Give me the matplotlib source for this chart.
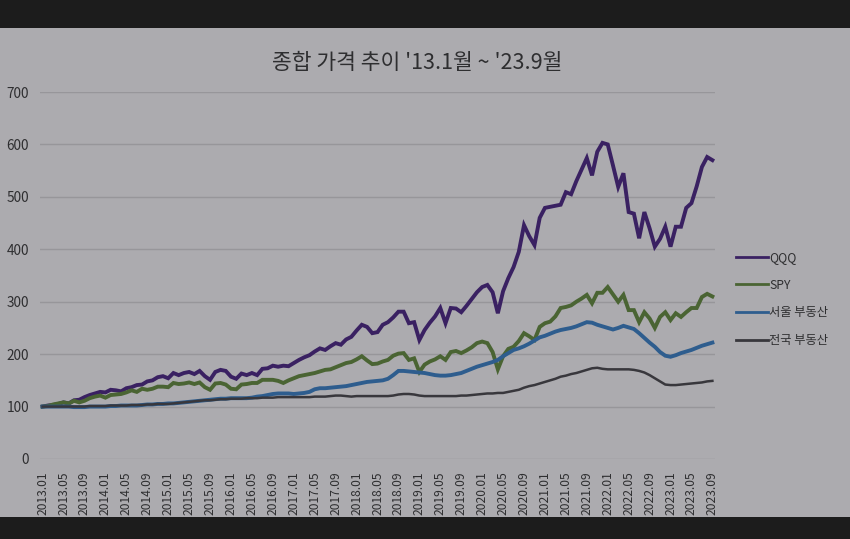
import matplotlib
matplotlib.use("Agg")
import matplotlib.pyplot as plt
from matplotlib.patches import Rectangle

plt.rcParams['font.family'] = ['Noto Sans CJK KR', 'DejaVu Sans']

# monthly index values, 2013.01 .. 2023.09
qqq = [100, 102, 103, 105, 108, 106, 112, 113, 118, 122, 125, 128,
       127, 132, 131, 129, 135, 137, 141, 142, 148, 150, 156, 158,
       154, 164, 160, 164, 166, 162, 168, 158, 151, 166, 170, 168,
       157, 153, 163, 160, 164, 160, 172, 173, 178, 176, 178, 177,
       183, 189, 194, 198, 205, 211, 208, 215, 221, 218, 228, 233,
       245, 256, 252, 240, 242, 256, 261, 270, 281, 281, 259, 261,
       227, 246, 260, 272, 288, 259, 288, 287, 280, 292, 305, 318,
       328, 332, 318, 278, 320, 345, 366, 395, 446, 425, 408, 460,
       479, 481, 483, 485, 509, 505, 530, 552, 574, 541, 586, 603,
       600, 560, 519, 545, 471, 468, 421, 471, 440, 405, 420, 443,
       405, 443, 443, 479, 488, 520, 557, 576, 570]

spy = [100, 101, 104, 106, 108, 106, 111, 108, 111, 116, 119, 121,
       117, 122, 123, 124, 127, 131, 128, 134, 132, 134, 138, 138,
       137, 145, 143, 144, 146, 143, 146, 137, 132, 144, 145, 142,
       134, 133, 142, 143, 145, 145, 151, 151, 151, 149, 145, 150,
       154, 158, 160, 162, 164, 167, 170, 171, 175, 179, 183, 185,
       190, 196, 188, 181, 182, 186, 189, 197, 201, 202, 189, 192,
       166, 180, 186, 190, 196, 189, 204, 206, 202, 207, 213, 221,
       224, 221, 204, 171, 196, 210, 214, 225, 240, 234, 227, 252,
       259, 262, 272, 288, 290, 293, 300, 306, 313, 297, 317, 317,
       328, 314, 300, 313, 284, 284, 261, 280, 268, 250, 271, 280,
       265, 278, 271, 280, 288, 288, 309, 315, 310]

seoul = [100, 100, 100, 100, 100, 100, 99, 99, 99, 100, 100, 100,
         100, 101, 101, 102, 102, 102, 102, 103, 104, 104, 105, 105,
         106, 106, 107, 108, 109, 110, 111, 112, 113, 114, 115, 115,
         116, 116, 116, 116, 117, 119, 120, 122, 124, 125, 125, 125,
         124, 125, 126, 128, 133, 135, 135, 136, 137, 138, 139, 141,
         143, 145, 147, 148, 149, 150, 153, 160, 168, 168, 167, 166,
         165, 164, 162, 160, 159, 159, 160, 162, 164, 168, 172, 176,
         179, 182, 185, 189, 196, 202, 208, 211, 215, 220, 226, 232,
         235, 239, 243, 246, 248, 250, 253, 257, 261, 260, 256, 253,
         250, 247, 250, 254, 251, 248, 240, 231, 222, 214, 204, 197,
         195, 198, 202, 205, 208, 212, 216, 219, 222]

korea = [100, 100, 100, 100, 100, 100, 100, 100, 100, 101, 101, 101,
         101, 102, 102, 102, 102, 103, 103, 103, 104, 104, 105, 105,
         105, 106, 107, 108, 109, 110, 111, 112, 112, 113, 114, 114,
         115, 115, 115, 116, 116, 116, 117, 117, 117, 118, 118, 118,
         118, 118, 118, 118, 119, 119, 119, 120, 121, 121, 120, 119,
         120, 120, 120, 120, 120, 120, 120, 121, 123, 124, 124, 123,
         121, 120, 120, 120, 120, 120, 120, 120, 121, 121, 122, 123,
         124, 125, 125, 126, 126, 128, 130, 132, 136, 139, 141, 144,
         147, 150, 153, 157, 159, 162, 164, 167, 170, 173, 174, 172,
         171, 171, 171, 171, 171, 170, 168, 165, 160, 154, 148, 142,
         141, 141, 142, 143, 144, 145, 146, 148, 149]

months = []
for y in range(2013, 2024):
    for m in range(1, 13):
        if y == 2023 and m > 9:
            break
        months.append(f"{y}.{m:02d}")

names = ['QQQ', 'SPY', '서울 부동산', '전국 부동산']
colors = ['#3a2162', '#4a6433', '#2e5d8e', '#38373c']
widths = [2.8, 2.8, 2.8, 1.8]

bg = '#acabaf'
fig = plt.figure(figsize=(8.5, 5.39), dpi=100, facecolor=bg)
fig.patches.append(Rectangle((0, 1 - 28 / 539), 1, 28 / 539, transform=fig.transFigure,
                             facecolor='#1c1c1c', edgecolor='none', zorder=10))
fig.patches.append(Rectangle((0, 0), 1, 22 / 539, transform=fig.transFigure,
                             facecolor='#1c1c1c', edgecolor='none', zorder=10))

ax = fig.add_axes([40 / 850, 80 / 539, 675 / 850, 367 / 539])
ax.set_facecolor(bg)
x = list(range(len(months)))
series = [qqq, spy, seoul, korea]
for vals, name, c, w in zip(series, names, colors, widths):
    ax.plot(x, vals, color=c, lw=w, label=name, solid_joinstyle='miter')

ax.set_xlim(-0.5, len(months) - 0.5)
ax.set_ylim(0, 700)
ax.set_yticks(range(0, 701, 100))
ax.set_xticks(x[::4])
ax.set_xticklabels(months[::4], rotation=90, fontsize=8.7, color='#2e2e30')
ax.tick_params(axis='y', labelsize=9.8, labelcolor='#2e2e30', length=0, pad=8)
ax.tick_params(axis='x', length=0, pad=9)
ax.grid(axis='y', color='#97969a', lw=1)
ax.set_axisbelow(True)
for s in ax.spines.values():
    s.set_visible(False)

fig.text(417 / 850, 1 - 63 / 539, "종합 가격 추이 '13.1월 ~ '23.9월", ha='center', va='center',
         fontsize=15.5, color='#2e2e30')

leg = fig.legend(loc='upper left', bbox_to_anchor=(736 / 850, 1 - 251 / 539), frameon=False,
                 fontsize=8.8, handlelength=2.6, handletextpad=0.1, labelspacing=1.2,
                 borderpad=0, borderaxespad=0)
for h in leg.get_lines():
    h.set_linewidth(2)
for t in leg.get_texts():
    t.set_color('#2e2e30')

fig.savefig('out.png', dpi=100, facecolor=bg)
